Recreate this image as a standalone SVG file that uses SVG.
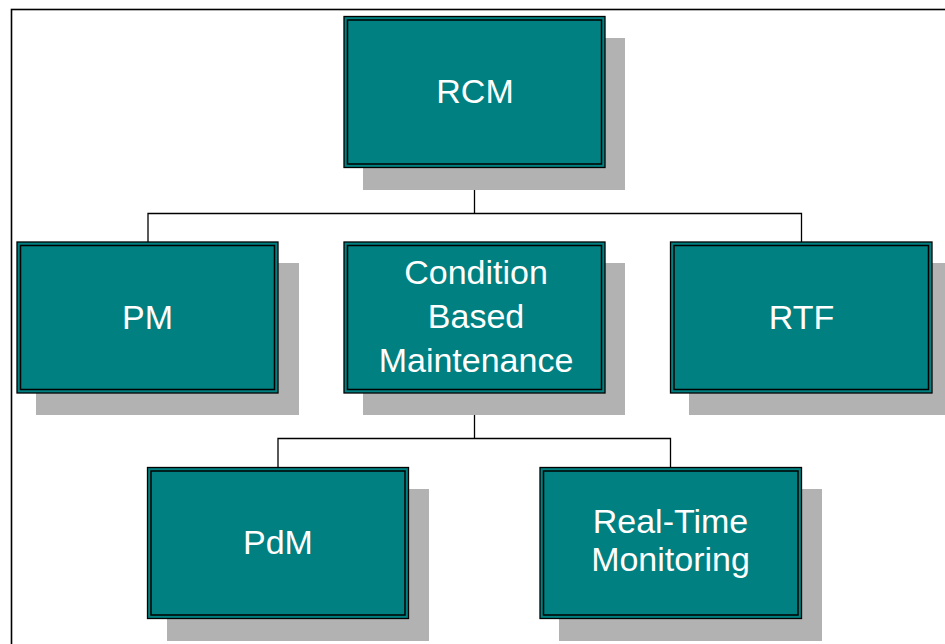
<svg xmlns="http://www.w3.org/2000/svg" width="945" height="644" viewBox="0 0 945 644">
<style>
.shadow{fill:#b2b2b2;}
.box{fill:#008080;stroke:#000;stroke-width:1.3;}
.inner{fill:none;stroke:#000;stroke-width:1.5;}
.lbl{font-family:"Liberation Sans",Arial,sans-serif;font-size:34px;fill:#fff;text-anchor:middle;}
.conn{fill:none;stroke:#000;stroke-width:1.3;}
</style>
<rect x="0" y="0" width="945" height="644" fill="#fff"/>
<rect x="11.5" y="9.5" width="1000" height="1000" fill="none" stroke="#000" stroke-width="1.6"/>
<g id="connectors">
<path class="conn" d="M474.5 167.5V213.5M148 242V213.5H801.5V242M474.5 392.5V438.5M278 467.5V438.5H670.5V467.5"/>
</g>
<g id="rcm">
<rect class="shadow" x="363" y="38" width="262" height="152"/>
<rect class="box" x="344" y="16.5" width="261" height="151"/>
<rect class="inner" x="347.5" y="20" width="254" height="144"/>
<text class="lbl" x="475" y="102.5">RCM</text>
</g>
<g id="pm">
<rect class="shadow" x="36" y="263" width="263" height="152"/>
<rect class="box" x="17" y="242" width="261" height="151"/>
<rect class="inner" x="20.5" y="245.5" width="254" height="144"/>
<text class="lbl" x="147.5" y="329">PM</text>
</g>
<g id="cbm">
<rect class="shadow" x="363" y="263" width="262" height="152"/>
<rect class="box" x="344" y="242" width="261" height="151"/>
<rect class="inner" x="347.5" y="245.5" width="254" height="144"/>
<text class="lbl" x="476" y="283.5">Condition</text>
<text class="lbl" x="476" y="327.5">Based</text>
<text class="lbl" x="476" y="371.5">Maintenance</text>
</g>
<g id="rtf">
<rect class="shadow" x="689" y="263" width="262" height="152"/>
<rect class="box" x="670.5" y="242" width="261.5" height="151"/>
<rect class="inner" x="674" y="245.5" width="254.5" height="144"/>
<text class="lbl" x="801.5" y="329">RTF</text>
</g>
<g id="pdm">
<rect class="shadow" x="167" y="489" width="262" height="152"/>
<rect class="box" x="147.5" y="467.5" width="261" height="151"/>
<rect class="inner" x="151" y="471" width="254" height="144"/>
<text class="lbl" x="278" y="553.5">PdM</text>
</g>
<g id="rtm">
<rect class="shadow" x="559" y="489" width="263" height="152"/>
<rect class="box" x="540" y="467.5" width="261.5" height="151"/>
<rect class="inner" x="543.5" y="471" width="254.5" height="144"/>
<text class="lbl" x="670.5" y="532.5">Real-Time</text>
<text class="lbl" x="670.5" y="571">Monitoring</text>
</g>
</svg>
